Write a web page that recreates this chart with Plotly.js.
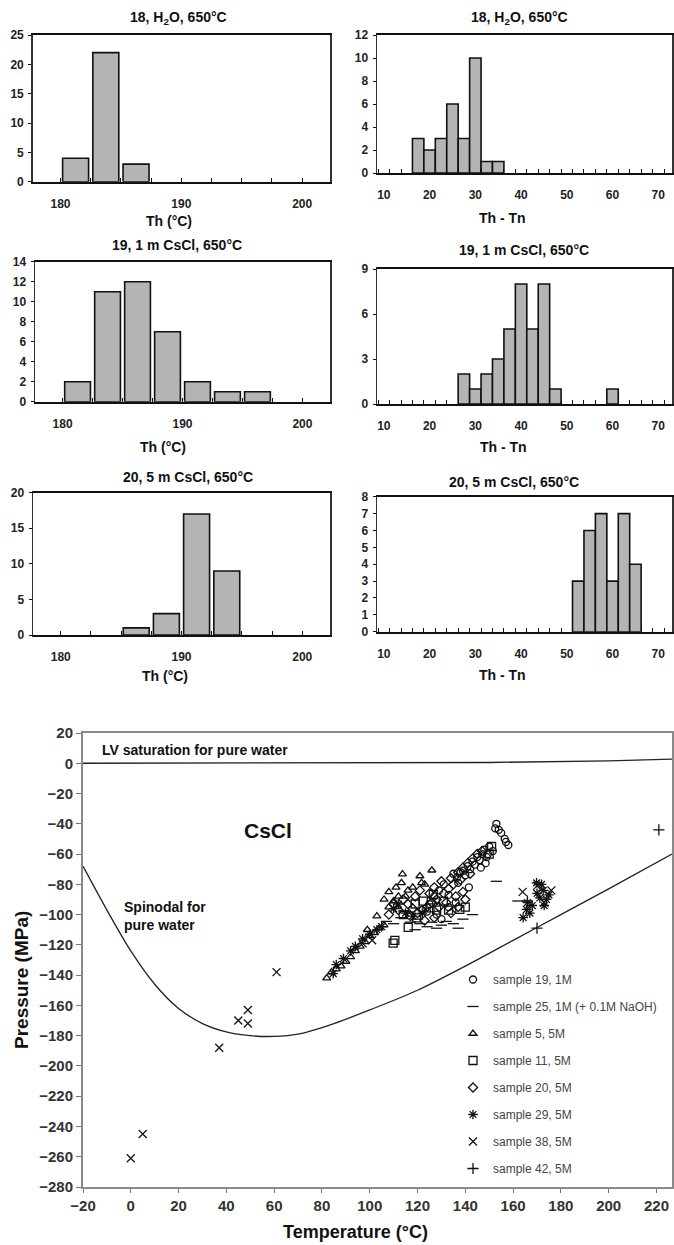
<!DOCTYPE html>
<html>
<head>
<meta charset="utf-8">
<script src="https://cdn.plot.ly/plotly-3.0.1.min.js"></script>
<style>html,body{margin:0;padding:0;background:#fff}</style>
</head>
<body>
<div id="chart" style="width:674px;height:1245px"></div>
<script>
// histogram bins, Th (°C): bin centres and counts
var th18x = [181.25, 183.75, 186.25];
var th18y = [4, 22, 3];
var th19x = [181.25, 183.75, 186.25, 188.75, 191.25, 193.75, 196.25];
var th19y = [2, 11, 12, 7, 2, 1, 1];
var th20x = [186.25, 188.75, 191.25, 193.75];
var th20y = [1, 3, 17, 9];

// histogram bins, Th - Tn
var dt18x = [17.5, 20, 22.5, 25, 27.5, 30, 32.5, 35];
var dt18y = [3, 2, 3, 6, 3, 10, 1, 1];
var dt19x = [27.5, 30, 32.5, 35, 37.5, 40, 42.5, 45, 47.5, 60];
var dt19y = [2, 1, 2, 3, 5, 8, 5, 8, 1, 1];
var dt20x = [52.5, 55, 57.5, 60, 62.5, 65];
var dt20y = [3, 6, 7, 3, 7, 4];

var thTicks = [180, 190, 200];
var dtTicks = [10, 20, 30, 40, 50, 60, 70];

// reference curves for pure water
var lvT = [-20, 100, 150, 200, 226.5];
var lvP = [0, 0.1, 0.5, 1.6, 2.8];
var spT = [-20, -10, 0, 10, 20, 30, 40, 50, 60, 70, 85, 100, 120, 140, 160, 180, 200, 226.5];
var spP = [-68, -97, -124, -146, -162, -172, -177.5, -180, -180.5, -179, -172, -163, -150, -134, -117, -100, -83, -60];

// fluid inclusion data (T °C, P MPa)
var s19T = [153, 152.5, 154, 155, 156.5, 157, 158, 150, 151.5, 149.5, 148, 149, 147, 146, 148.5, 145, 144, 143, 146.5, 142, 141, 139, 140, 138, 136.5, 135, 137, 141.5, 133, 131, 129, 127, 125, 124, 128, 133, 136, 130];
var s19P = [-40, -43, -44, -46, -50, -52, -54, -55, -58, -60, -57, -62, -60, -64, -66, -62, -67, -65, -69, -70, -68, -71, -74, -72, -75.5, -73, -79, -82, -87, -80, -84, -88, -93, -98, -100, -95, -92, -103];
var s25T = [153, 162, 107, 124, 128, 132, 121, 135, 139, 117, 113, 110, 126, 130, 137, 120, 143, 111, 115, 119];
var s25P = [-78, -91, -104.5, -108, -109, -104.5, -106, -106, -103, -105, -102, -106, -105, -107, -109, -103, -100, -96, -98, -110];
var s5T = [113.7, 113.3, 121, 121.7, 126, 111, 116, 112, 110, 108, 82, 84, 86, 88, 90, 92, 94, 96, 98, 100, 102, 104, 106, 115, 118, 123, 108, 106, 103, 99];
var s5P = [-73.3, -79, -74.5, -79, -70.7, -82, -84, -88, -91, -95, -142, -138, -136, -134, -131, -128, -124, -121, -118, -114, -112, -109, -107, -88, -82, -80, -85, -90, -101, -110];
var s11T = [126.6, 122.4, 119.6, 116.1, 109.8, 110.5, 130.8, 137.7, 125.2, 151, 150, 133, 128, 140, 119, 114];
var s11P = [-86.7, -91.1, -102.2, -108.4, -118.9, -117, -91.1, -96.6, -95.5, -55, -60, -97, -97, -95, -93, -100];
var s20T = [145, 143, 141, 139, 137, 147, 142, 138, 135, 133, 131, 128, 126, 124, 122, 120, 118, 116, 114, 119, 121, 125, 127, 130, 134, 136, 139, 132, 129, 140, 137, 134, 127, 123, 117, 112, 110, 108];
var s20P = [-60, -63, -66, -69, -72, -58, -73, -77, -80, -83, -86, -90, -92, -95, -97, -99, -96, -93, -90, -88, -84, -86, -82, -78, -76, -88, -85, -92, -95, -90, -95, -99, -102, -104, -101, -97, -93, -100];
var s29T = [169.8, 171.9, 172.6, 171.2, 174, 165.6, 167, 164.2, 170, 173, 168, 175, 166, 110, 112, 105, 103, 100, 97, 94, 92, 89, 86, 84.7, 115, 118, 122];
var s29P = [-79, -80, -84, -89, -90, -96.6, -99, -102, -86, -94, -94, -87, -92, -96, -93, -108, -110, -113, -116, -121, -124, -129, -133, -139, -99, -101, -99];
var s38T = [0, 5, 37, 45, 49, 49, 61, 164, 176, 173, 170, 97, 101];
var s38P = [-261, -245, -188, -170, -172, -163, -138, -85, -84, -92, -81, -119, -117];
var s42T = [221, 170, 166];
var s42P = [-44, -109, -91];

var W = 674, H = 1245;
var FONT = 'Liberation Sans, Arial, sans-serif';
function dx(a, b) { return [a / W, b / W]; }
function dy(top, bottom) { return [1 - bottom / H, 1 - top / H]; }

function bars(xs, ys, ax, width) {
    return {
        type: 'bar', x: xs, y: ys, width: width,
        xaxis: 'x' + ax, yaxis: 'y' + ax, showlegend: false, hoverinfo: 'skip',
        marker: {color: '#b4b4b4', line: {color: '#111', width: 1.6}}
    };
}

function pts(name, xs, ys, symbol, size) {
    return {
        type: 'scatter', mode: 'markers', name: name, legendgroup: name,
        x: xs, y: ys, xaxis: 'x7', yaxis: 'y7',
        marker: {symbol: symbol, size: size, color: '#111', line: {color: '#111', width: 1.3}}
    };
}

var tickF = {family: FONT, size: 12, color: '#222', weight: 'bold'};

function thAxis(dom, anchor) {
    return {
        domain: dom, anchor: anchor, range: [177.7, 202.3],
        tickvals: thTicks, ticks: 'inside', ticklen: 4, tickcolor: '#111',
        minor: {tick0: 180, dtick: 2.5, ticks: 'inside', ticklen: 4, tickcolor: '#111'},
        showline: true, mirror: true, linecolor: '#111', linewidth: 2,
        showgrid: false, zeroline: false, tickfont: tickF, ticklabelstandoff: 10
    };
}

function dtAxis(dom, anchor) {
    return {
        domain: dom, anchor: anchor, range: [8.5, 73],
        tickvals: dtTicks, ticks: '',
        minor: {tick0: 8.75, dtick: 2.5, ticks: 'inside', ticklen: 4, tickcolor: '#111'},
        showline: true, mirror: true, linecolor: '#111', linewidth: 2,
        showgrid: false, zeroline: false, tickfont: tickF, ticklabelstandoff: 10
    };
}

function cntAxis(dom, anchor, top, step) {
    return {
        domain: dom, anchor: anchor, range: [0, top], dtick: step,
        ticks: 'outside', ticklen: 3, tickcolor: '#111',
        showline: true, mirror: true, linecolor: '#333', linewidth: 1.5,
        showgrid: false, zeroline: false, tickfont: tickF, ticklabelstandoff: 2
    };
}

function label(text, px, py, size, extra) {
    var a = {
        text: text, xref: 'paper', yref: 'paper', x: px / W, y: 1 - py / H,
        xanchor: 'center', yanchor: 'middle', showarrow: false,
        font: {family: FONT, size: size, color: '#111', weight: 'bold'}
    };
    for (var k in extra) a[k] = extra[k];
    return a;
}

var data = [
    bars(th18x, th18y, '', 2.15),
    bars(dt18x, dt18y, '2', 2.5),
    bars(th19x, th19y, '3', 2.15),
    bars(dt19x, dt19y, '4', 2.5),
    bars(th20x, th20y, '5', 2.15),
    bars(dt20x, dt20y, '6', 2.5),
    {type: 'scatter', mode: 'lines', x: lvT, y: lvP, xaxis: 'x7', yaxis: 'y7', showlegend: false,
     line: {color: '#222', width: 1.3}, hoverinfo: 'skip'},
    {type: 'scatter', mode: 'lines', x: spT, y: spP, xaxis: 'x7', yaxis: 'y7', showlegend: false,
     line: {color: '#222', width: 1.3, shape: 'spline', smoothing: 1}, hoverinfo: 'skip'},
    pts('sample 19, 1M', s19T, s19P, 'circle-open', 7),
    pts('sample 25, 1M (+ 0.1M NaOH)', s25T, s25P, 'line-ew-open', 8),
    pts('sample 5, 5M', s5T, s5P, 'triangle-up-open', 7),
    pts('sample 11, 5M', s11T, s11P, 'square-open', 8),
    pts('sample 20, 5M', s20T, s20P, 'diamond-open', 7),
    pts('sample 29, 5M', s29T, s29P, 'asterisk-open', 8),
    pts('sample 38, 5M', s38T, s38P, 'x-thin-open', 8),
    pts('sample 42, 5M', s42T, s42P, 'cross-thin-open', 8)
];

var layout = {
    width: W, height: H,
    margin: {l: 0, r: 0, t: 0, b: 0},
    paper_bgcolor: '#fff', plot_bgcolor: '#fff',
    font: {family: FONT, color: '#222'},
    bargap: 0,
    xaxis: thAxis(dx(32.7, 330), 'y'),
    yaxis: cntAxis(dy(35, 181.7), 'x', 25, 5),
    xaxis2: dtAxis(dx(377, 672), 'y2'),
    yaxis2: cntAxis(dy(35, 173), 'x2', 12, 2),
    xaxis3: thAxis(dx(35, 330), 'y3'),
    yaxis3: cntAxis(dy(261.7, 401.7), 'x3', 14, 2),
    xaxis4: dtAxis(dx(377, 672), 'y4'),
    yaxis4: cntAxis(dy(269, 404), 'x4', 9, 3),
    xaxis5: thAxis(dx(33, 330), 'y5'),
    yaxis5: cntAxis(dy(492.7, 635), 'x5', 20, 5),
    xaxis6: dtAxis(dx(377, 672), 'y6'),
    yaxis6: cntAxis(dy(496.7, 631.7), 'x6', 8, 1),
    xaxis7: {
        domain: dx(83, 672), anchor: 'y7', range: [-20, 226.5], tick0: -20, dtick: 20,
        ticks: 'outside', ticklen: 4, tickcolor: '#777',
        showline: true, mirror: true, linecolor: '#8a8a8a', linewidth: 2,
        showgrid: false, zeroline: false,
        tickfont: {family: FONT, size: 15, color: '#333', weight: 'bold'}
    },
    yaxis7: {
        domain: dy(733, 1187), anchor: 'x7', range: [-280, 20], tick0: -280, dtick: 20,
        ticks: 'outside', ticklen: 5, tickcolor: '#777',
        showline: true, mirror: true, linecolor: '#8a8a8a', linewidth: 2,
        showgrid: false, zeroline: false,
        tickfont: {family: FONT, size: 15, color: '#333', weight: 'bold'}
    },
    legend: {
        x: 453 / W, xanchor: 'left', y: 1 - 965 / H, yanchor: 'top',
        bgcolor: 'rgba(0,0,0,0)', traceorder: 'grouped', tracegroupgap: 8,
        font: {family: FONT, size: 12, color: '#444'}
    },
    annotations: [
        label('18, H<sub>2</sub>O, 650°C', 178, 18, 14),
        label('18, H<sub>2</sub>O, 650°C', 519, 18, 14),
        label('19, 1 m CsCl, 650°C', 177, 245, 14),
        label('19, 1 m CsCl, 650°C', 524, 250, 14),
        label('20, 5 m CsCl, 650°C', 188, 477, 14),
        label('20, 5 m CsCl, 650°C', 514, 482, 14),
        label('Th (°C)', 169, 221, 14),
        label('Th (°C)', 163, 447, 14),
        label('Th (°C)', 165, 676, 14),
        label('Th - Tn', 502, 218, 14),
        label('Th - Tn', 504, 447, 14),
        label('Th - Tn', 503, 675, 14),
        label('LV saturation for pure water', 100, 750, 14, {xanchor: 'left'}),
        label('CsCl', 268, 830, 21),
        label('Spinodal for<br>pure water', 122, 916, 14, {xanchor: 'left', align: 'left'}),
        label('Pressure (MPa)', 21, 980, 19, {textangle: -90}),
        label('Temperature (°C)', 355, 1232, 18)
    ]
};

Plotly.newPlot('chart', data, layout, {displayModeBar: false, staticPlot: true});
</script>
</body>
</html>
